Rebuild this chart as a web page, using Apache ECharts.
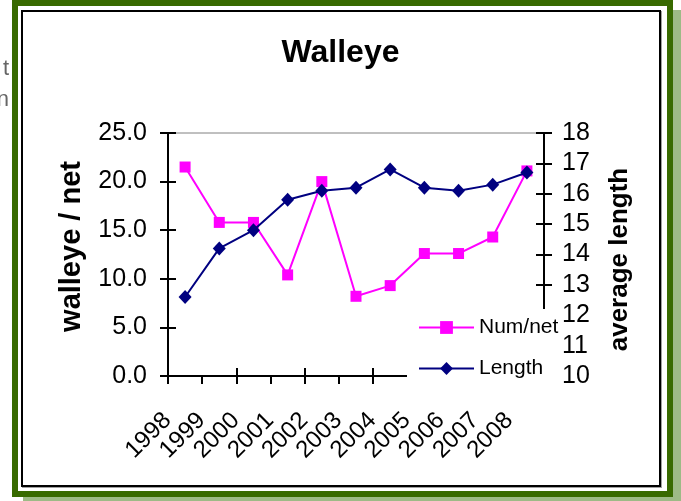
<!DOCTYPE html>
<html>
<head>
<meta charset="utf-8">
<script src="https://cdn.jsdelivr.net/npm/echarts@6/dist/echarts.min.js"></script>
<style>
html,body{margin:0;padding:0;background:#fff;}
#c{width:681px;height:501px;}
</style>
</head>
<body>
<div id="c"></div>
<script>
const years = ['1998','1999','2000','2001','2002','2003','2004','2005','2006','2007','2008'];
const numPerNet = [21.5, 15.8, 15.8, 10.4, 20.0, 8.2, 9.3, 12.6, 12.6, 14.3, 21.1];
const avgLength = [12.6, 14.2, 14.8, 15.8, 16.1, 16.2, 16.8, 16.2, 16.1, 16.3, 16.7];
const leftAxis = {min: 0, max: 25, interval: 5};
const rightAxis = {min: 10, max: 18, interval: 1};

const FONT = 'Liberation Sans, Arial, sans-serif';
const chart = echarts.init(document.getElementById('c'), null, {renderer: 'canvas'});

const tickOut = {show: true, inside: false, length: 8, lineStyle: {color: '#000', width: 2}};
const tickIn = {show: true, inside: true, length: 8, lineStyle: {color: '#000', width: 2}};
const axisLine = {show: true, onZero: false, lineStyle: {color: '#000', width: 2}};

chart.setOption({
  backgroundColor: '#fff',
  animation: false,
  graphic: [
    {type: 'rect', z: -10, shape: {x: 673, y: 10, width: 8, height: 491}, style: {fill: '#9dba86'}},
    {type: 'rect', z: -10, shape: {x: 23, y: 497, width: 658, height: 4}, style: {fill: '#9dba86'}},
    {type: 'rect', z: -9, shape: {x: 15, y: 3, width: 655, height: 491}, style: {fill: '#fff', stroke: '#386a00', lineWidth: 6}},
    {type: 'rect', z: -8, shape: {x: 23, y: 12, width: 638, height: 475}, style: {fill: 'none', stroke: '#a0a0a0', lineWidth: 2}},
    {type: 'rect', z: -7, shape: {x: 22, y: 11, width: 638, height: 475}, style: {fill: '#fff', stroke: '#000', lineWidth: 2}},
    {type: 'text', z: -10, style: {x: 9, y: 58, text: 't', fill: '#666', font: '22px ' + FONT, align: 'right'}},
    {type: 'text', z: -10, style: {x: 9, y: 89, text: 'n', fill: '#666', font: '22px ' + FONT, align: 'right'}}
  ],
  title: {
    text: 'Walleye',
    left: 'center',
    top: 32,
    textStyle: {fontFamily: FONT, fontWeight: 'bold', fontSize: 32, color: '#000'}
  },
  legend: {
    orient: 'vertical',
    left: 407,
    top: 309,
    backgroundColor: '#fff',
    padding: [8, 2, 8, 11],
    itemWidth: 55,
    itemHeight: 16,
    itemGap: 20,
    z: 10,
    textStyle: {fontFamily: FONT, fontSize: 21, color: '#000'},
    data: ['Num/net', 'Length']
  },
  grid: {
    left: 168, right: 137, top: 133, bottom: 125,
    show: true, borderColor: '#808080', borderWidth: 1, backgroundColor: 'transparent'
  },
  xAxis: [
    {
      type: 'category', data: years, position: 'bottom', boundaryGap: true,
      axisLine: axisLine, axisTick: tickOut,
      axisLabel: {rotate: 45, margin: 23, padding: [0, 25, 0, 0], fontFamily: FONT, fontSize: 24, color: '#000', interval: 0},
      splitLine: {show: false}
    },
    {
      type: 'category', data: years, position: 'bottom', boundaryGap: true,
      axisLine: {show: false, onZero: false}, axisTick: tickIn,
      axisLabel: {show: false}, splitLine: {show: false}
    }
  ],
  yAxis: [
    {
      type: 'value', position: 'left', min: leftAxis.min, max: leftAxis.max, interval: leftAxis.interval,
      name: 'walleye / net', nameLocation: 'middle', nameRotate: 90, nameGap: 82,
      nameTextStyle: {fontFamily: FONT, fontSize: 29, fontWeight: 'bold', color: '#000', padding: [0, 0, 0, 16]},
      axisLine: axisLine, axisTick: tickOut,
      axisLabel: {margin: 21, fontFamily: FONT, fontSize: 25, color: '#000', formatter: v => v.toFixed(1)},
      splitLine: {show: false}
    },
    {
      type: 'value', position: 'right', min: rightAxis.min, max: rightAxis.max, interval: rightAxis.interval,
      name: 'average length', nameLocation: 'middle', nameRotate: 90, nameGap: 63,
      nameTextStyle: {fontFamily: FONT, fontSize: 26, fontWeight: 'bold', color: '#000', padding: [0, 10, 0, 0]},
      axisLine: axisLine, axisTick: tickOut,
      axisLabel: {margin: 18, fontFamily: FONT, fontSize: 25, color: '#000'},
      splitLine: {show: false}
    },
    {
      type: 'value', position: 'left', min: leftAxis.min, max: leftAxis.max, interval: leftAxis.interval,
      axisLine: {show: false}, axisTick: tickIn, axisLabel: {show: false}, splitLine: {show: false}
    },
    {
      type: 'value', position: 'right', min: rightAxis.min, max: rightAxis.max, interval: rightAxis.interval,
      axisLine: {show: false}, axisTick: tickIn, axisLabel: {show: false}, splitLine: {show: false}
    }
  ],
  series: [
    {
      name: 'Num/net', type: 'line', xAxisIndex: 0, yAxisIndex: 0, data: numPerNet,
      symbol: 'rect', symbolSize: 11, showAllSymbol: true,
      lineStyle: {color: '#ff00ff', width: 2}, itemStyle: {color: '#ff00ff'}, z: 3
    },
    {
      name: 'Length', type: 'line', xAxisIndex: 0, yAxisIndex: 1, data: avgLength,
      symbol: 'diamond', symbolSize: [13, 14], showAllSymbol: true,
      lineStyle: {color: '#000080', width: 2}, itemStyle: {color: '#000080'}, z: 4
    }
  ]
});
</script>
</body>
</html>
